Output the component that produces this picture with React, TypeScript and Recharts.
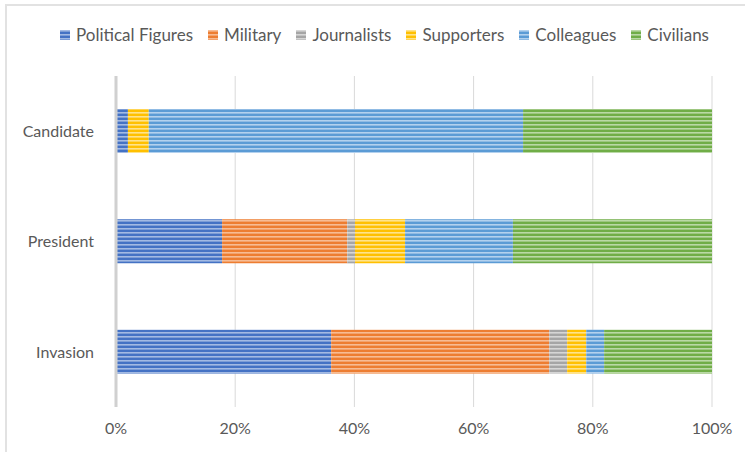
import { Bar, BarChart, CartesianGrid, XAxis, YAxis } from "recharts";

// categories, top to bottom
const categories = ["Candidate", "President", "Invasion"];

// share of each group, in percent
const political = [2.0, 17.8, 36.1];
const military = [0, 21.0, 36.6];
const journalists = [0, 1.3, 3.0];
const supporters = [3.5, 8.4, 3.2];
const colleagues = [62.8, 18.1, 3.0];
const civilians = [31.7, 33.4, 18.1];

const xTicks = [0, 0.2, 0.4, 0.6, 0.8, 1];

const series = [
  { key: "political", name: "Political Figures", color: "#4472C4", light: "#A3BAE3" },
  { key: "military", name: "Military", color: "#ED7D31", light: "#F7BC94" },
  { key: "journalists", name: "Journalists", color: "#A5A5A5", light: "#D6D6D6" },
  { key: "supporters", name: "Supporters", color: "#FFC000", light: "#FFE38A" },
  { key: "colleagues", name: "Colleagues", color: "#5B9BD5", light: "#B3D1EE" },
  { key: "civilians", name: "Civilians", color: "#70AD47", light: "#BAD9A6" },
];

const data = categories.map((name, i) => ({
  name,
  political: political[i],
  military: military[i],
  journalists: journalists[i],
  supporters: supporters[i],
  colleagues: colleagues[i],
  civilians: civilians[i],
}));

const font = "Lato, 'Open Sans', sans-serif";
const textColor = "#595959";

function Patterns() {
  return (
    <svg width={0} height={0} style={{ position: "absolute" }}>
      <defs>
        {series.map((s) => (
          <pattern key={s.key} id={`stripe-${s.key}`} width={8} height={4} patternUnits="userSpaceOnUse">
            <rect x={0} y={0} width={8} height={4} fill={s.color} />
            <rect x={0} y={0} width={8} height={1.6} fill={s.light} />
          </pattern>
        ))}
      </defs>
    </svg>
  );
}

// legend drawn outside the chart so it doesn't eat plot height
function ChartLegend() {
  return (
    <div
      style={{
        position: "absolute",
        left: 60,
        top: 24,
        display: "flex",
        alignItems: "center",
        fontFamily: font,
        fontSize: 17,
        lineHeight: "22px",
        color: textColor,
        whiteSpace: "nowrap",
      }}
    >
      {series.map((s) => (
        <div key={s.key} style={{ display: "flex", alignItems: "center", marginRight: 15 }}>
          <svg width={10} height={10} style={{ marginRight: 6 }}>
            <rect width={10} height={10} fill={`url(#stripe-${s.key})`} />
          </svg>
          <span>{s.name}</span>
        </div>
      ))}
    </div>
  );
}

export default function App() {
  return (
    <div style={{ position: "absolute", left: 0, top: 0, width: 745, height: 452, background: "#fff", overflow: "hidden" }}>
      <Patterns />
      <div
        style={{
          position: "absolute",
          left: 5,
          top: 4,
          width: 760,
          height: 470,
          borderTop: "2px solid #E2E2E2",
          borderLeft: "2px solid #E2E2E2",
        }}
      />
      <BarChart
        width={745}
        height={452}
        data={data}
        layout="vertical"
        stackOffset="expand"
        margin={{ top: 76, right: 33, bottom: 15, left: 0 }}
        style={{ position: "absolute", left: 0, top: 0 }}
      >
        <CartesianGrid horizontal={false} stroke="#D9D9D9" />
        <XAxis
          type="number"
          domain={[0, 1]}
          ticks={xTicks}
          height={30}
          tickFormatter={(v) => `${Math.round(v * 100)}%`}
          axisLine={false}
          tickLine={false}
          tickSize={0}
          tickMargin={16}
          tick={{ fill: textColor, fontSize: 16, fontFamily: font }}
        />
        <YAxis
          type="category"
          dataKey="name"
          width={116}
          axisLine={{ stroke: "#D0D0D0", strokeWidth: 3 }}
          tickLine={false}
          tickSize={0}
          tickMargin={22}
          tick={{ fill: textColor, fontSize: 16, fontFamily: font }}
        />
        {series.map((s) => (
          <Bar
            key={s.key}
            dataKey={s.key}
            name={s.name}
            stackId="a"
            fill={`url(#stripe-${s.key})`}
            barSize={44}
            isAnimationActive={false}
          />
        ))}
      </BarChart>
      <ChartLegend />
    </div>
  );
}
